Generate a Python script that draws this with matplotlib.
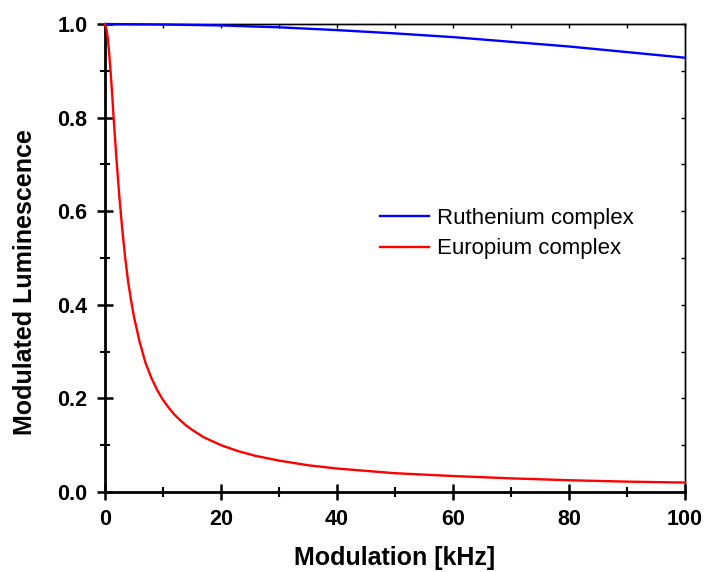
import matplotlib
matplotlib.use('Agg')
import matplotlib.pyplot as plt
from matplotlib.ticker import MultipleLocator, FormatStrFormatter

plt.rcParams['font.family'] = ['Liberation Sans', 'DejaVu Sans']

# values
freq_eu = [0, 0.25, 0.5, 0.75, 1, 1.25, 1.5, 1.75, 2, 2.5, 3, 3.5, 4, 4.5, 5, 6, 7, 8, 9, 10,
           11, 12, 13, 14, 15, 17, 20, 23, 26, 30, 35, 40, 45, 50, 60, 70, 80, 90, 100]
lum_eu = [1.0, 0.99, 0.97, 0.935, 0.895, 0.85, 0.80, 0.755, 0.71, 0.63, 0.56, 0.50, 0.45, 0.41,
          0.375, 0.32, 0.276, 0.244, 0.218, 0.197, 0.18, 0.165, 0.153, 0.142, 0.133, 0.117,
          0.10, 0.087, 0.077, 0.067, 0.057, 0.05, 0.045, 0.040, 0.034, 0.029, 0.025, 0.022, 0.020]
freq_ru = [0, 10, 20, 30, 40, 50, 60, 70, 80, 90, 100]
lum_ru = [1.0, 0.999, 0.997, 0.993, 0.987, 0.980, 0.972, 0.962, 0.952, 0.940, 0.928]

fig = plt.figure(figsize=(7.04, 5.72), dpi=100)
ax = fig.add_axes([0.149, 0.14, 0.824, 0.818])

ax.plot(freq_ru, lum_ru, color='blue', lw=1.7, label='Ruthenium complex', clip_on=False, zorder=5)
ax.plot(freq_eu, lum_eu, color='red', lw=1.7, label='Europium complex', clip_on=False, zorder=5)

ax.set_xlim(0, 100)
ax.set_ylim(0, 1.0)
ax.xaxis.set_major_locator(MultipleLocator(20))
ax.xaxis.set_minor_locator(MultipleLocator(10))
ax.yaxis.set_major_locator(MultipleLocator(0.2))
ax.yaxis.set_minor_locator(MultipleLocator(0.1))
ax.yaxis.set_major_formatter(FormatStrFormatter('%.1f'))

for s in ['left', 'bottom']:
    ax.spines[s].set_linewidth(2.0)
for s in ['top', 'right']:
    ax.spines[s].set_linewidth(1.0)

ax.tick_params(which='major', direction='inout', length=12, width=1.8, labelsize=15.5)
ax.tick_params(axis='y', which='major', pad=6.5)
ax.tick_params(axis='x', which='major', pad=6)
ax.tick_params(which='minor', direction='inout', length=7, width=1.5)
ax.tick_params(which='both', top=False, right=False)
for lab in ax.get_xticklabels() + ax.get_yticklabels():
    lab.set_fontweight('bold')

# inward ticks on the top and right frame
ax_r = ax.secondary_yaxis('right')
ax_r.yaxis.set_major_locator(MultipleLocator(0.1))
ax_r.tick_params(direction='in', length=3, width=1, labelright=False)
ax_r.spines['right'].set_linewidth(1.0)
ax_t = ax.secondary_xaxis('top')
ax_t.xaxis.set_major_locator(MultipleLocator(10))
ax_t.tick_params(direction='in', length=3, width=1, labeltop=False)
ax_t.spines['top'].set_linewidth(1.0)

ax.set_xlabel('Modulation [kHz]', fontsize=18, fontweight='bold')
ax.set_ylabel('Modulated Luminescence', fontsize=18, fontweight='bold')
ax.xaxis.set_label_coords(395 / 704, 1 - 558 / 572, transform=fig.transFigure)
ax.yaxis.set_label_coords(25 / 704, 1 - 282 / 572, transform=fig.transFigure)
ax.xaxis.label.set_va('center')
ax.yaxis.label.set_va('center')

ax.legend(loc='upper left', bbox_to_anchor=(369 / 704, 1 - 197 / 572),
          bbox_transform=fig.transFigure, frameon=False, fontsize=16, borderpad=0,
          handlelength=2.2, handletextpad=0.35, labelspacing=0.42)

fig.savefig('out.png', dpi=100)
